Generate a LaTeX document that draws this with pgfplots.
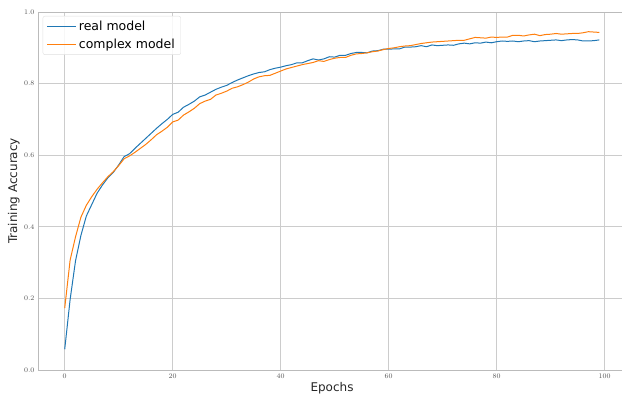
\documentclass[border=0pt]{standalone}
\usepackage{pgfplots}
\pgfplotsset{compat=1.18}
\usepackage{fontspec}
\setmainfont{DejaVu Sans}
\definecolor{mplblue}{HTML}{1F77B4}
\definecolor{mplorange}{HTML}{FF7F0E}
\definecolor{gridgray}{HTML}{CCCCCC}
\definecolor{spinegray}{HTML}{BBBBBB}
\definecolor{tickgray}{HTML}{555555}

\pgfplotstableread{
e real complex
0 0.058 0.173
1 0.197 0.307
2 0.305 0.372
3 0.376 0.427
4 0.430 0.460
5 0.462 0.484
6 0.494 0.505
7 0.517 0.523
8 0.537 0.540
9 0.552 0.554
10 0.573 0.571
11 0.596 0.590
12 0.604 0.598
13 0.619 0.608
14 0.633 0.619
15 0.647 0.630
16 0.661 0.643
17 0.675 0.657
18 0.688 0.667
19 0.700 0.678
20 0.714 0.693
21 0.720 0.698
22 0.734 0.712
23 0.742 0.721
24 0.751 0.731
25 0.763 0.744
26 0.768 0.751
27 0.776 0.756
28 0.784 0.768
29 0.790 0.773
30 0.795 0.779
31 0.803 0.787
32 0.810 0.791
33 0.816 0.797
34 0.822 0.804
35 0.827 0.813
36 0.831 0.819
37 0.833 0.822
38 0.839 0.823
39 0.843 0.829
40 0.846 0.835
41 0.850 0.841
42 0.853 0.845
43 0.858 0.849
44 0.858 0.853
45 0.864 0.856
46 0.869 0.859
47 0.866 0.864
48 0.869 0.862
49 0.875 0.867
50 0.874 0.871
51 0.879 0.873
52 0.879 0.873
53 0.884 0.879
54 0.887 0.883
55 0.887 0.884
56 0.886 0.886
57 0.891 0.889
58 0.892 0.891
59 0.896 0.895
60 0.896 0.898
61 0.897 0.900
62 0.897 0.903
63 0.902 0.905
64 0.902 0.906
65 0.903 0.909
66 0.906 0.912
67 0.903 0.914
68 0.908 0.916
69 0.906 0.917
70 0.907 0.918
71 0.908 0.919
72 0.907 0.920
73 0.911 0.921
74 0.913 0.921
75 0.911 0.925
76 0.914 0.929
77 0.913 0.928
78 0.916 0.927
79 0.914 0.930
80 0.917 0.929
81 0.919 0.930
82 0.918 0.930
83 0.919 0.935
84 0.917 0.935
85 0.919 0.933
86 0.920 0.936
87 0.917 0.938
88 0.919 0.934
89 0.920 0.937
90 0.921 0.938
91 0.922 0.940
92 0.920 0.938
93 0.922 0.939
94 0.923 0.940
95 0.922 0.940
96 0.919 0.942
97 0.919 0.945
98 0.920 0.944
99 0.922 0.943
}\datatable

\begin{document}
\begin{tikzpicture}
\useasboundingbox (-38pt,-32pt) rectangle (584pt,370pt);
\begin{axis}[
  at={(0,0)}, anchor=south west,
  scale only axis,
  width=588pt, height=358pt,
  xmin=-4.95, xmax=103.95,
  ymin=0, ymax=1,
  xtick={0,20,40,60,80,100},
  ytick={0,0.2,0.4,0.6,0.8,1.0},
  yticklabel style={/pgf/number format/.cd, fixed, fixed zerofill, precision=1},
  ticklabel style={font=\fontsize{7}{8}\selectfont, text=tickgray},
  major tick length=0pt,
  grid=major,
  major grid style={gridgray, line width=0.8pt},
  axis line style={spinegray, line width=0.9pt},
  xlabel={Epochs},
  ylabel={Training Accuracy},
  label style={font=\fontsize{12}{14}\selectfont, text=black!85},
  xlabel style={at={(axis description cs:0.5,-0.05)}, anchor=center},
  ylabel style={at={(axis description cs:-0.041,0.5)}, anchor=center, rotate=0},
  legend style={at={(0.008,0.989)}, anchor=north west, draw=gray!25, rounded corners=2pt,
    fill=white, fill opacity=0.85, text opacity=1,
    font=\fontsize{12.5}{14}\selectfont, row sep=2.5pt, inner xsep=4pt, inner ysep=3pt},
  legend cell align=left,
  legend image code/.code={\draw[#1] (0pt,0pt) -- (24pt,0pt); \path (0pt,0pt) -- (29pt,0pt);},
]
\addplot[mplblue, line width=1.0pt] table[x=e, y=real] {\datatable};
\addlegendentry{real model}
\addplot[mplorange, line width=1.0pt] table[x=e, y=complex] {\datatable};
\addlegendentry{complex model}
\end{axis}
\end{tikzpicture}
\end{document}
